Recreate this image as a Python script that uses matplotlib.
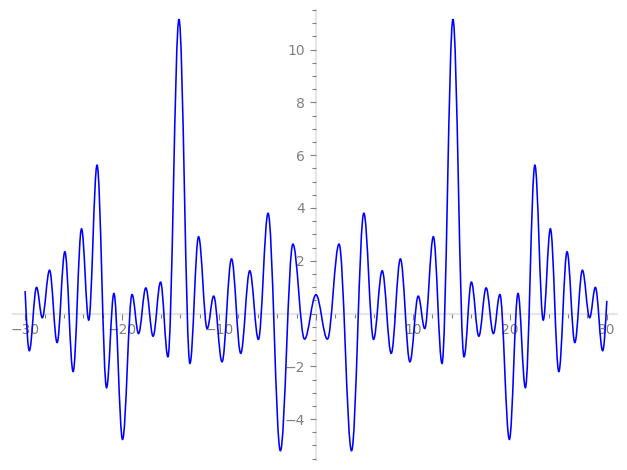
import matplotlib
matplotlib.use("Agg")
import matplotlib.pyplot as plt
from matplotlib.path import Path
from matplotlib.patches import PathPatch
from matplotlib.ticker import MultipleLocator, FuncFormatter

# extrema of the curve (x, y), left to right
xs = [-30.0, -29.57, -28.82, -28.23, -27.48, -26.7, -25.9, -25.05, -24.18, -23.44,
      -22.58, -21.6, -20.84, -19.95, -18.97, -18.3, -17.55, -16.8, -16.03, -15.27,
      -14.13, -13.0, -12.11, -11.22, -10.55, -9.69, -8.71, -7.76, -6.83, -5.94,
      -4.94, -3.67, -2.38, -1.18, 0.0,
      1.18, 2.38, 3.67, 4.94, 5.94, 6.83, 7.76, 8.71, 9.69, 10.55,
      11.22, 12.11, 13.0, 14.13, 15.27, 16.03, 16.8, 17.55, 18.3, 18.97,
      19.95, 20.84, 21.6, 22.58, 23.44, 24.18, 25.05, 25.9, 26.7, 27.48,
      28.23, 28.82, 29.57, 30.0]
ys = [0.85, -1.41, 0.99, -0.16, 1.64, -1.1, 2.34, -2.2, 3.21, -0.25,
      5.62, -2.81, 0.76, -4.77, 0.72, -0.76, 0.97, -0.86, 1.19, -1.64,
      11.15, -1.89, 2.91, -0.57, 0.66, -1.83, 2.07, -1.51, 1.62, -0.98,
      3.8, -5.2, 2.63, -0.97, 0.71,
      -0.97, 2.63, -5.2, 3.8, -0.98, 1.62, -1.51, 2.07, -1.83, 0.66,
      -0.57, 2.91, -1.89, 11.15, -1.64, 1.19, -0.86, 0.97, -0.76, 0.72,
      -4.77, 0.76, -2.81, 5.62, -0.25, 3.21, -2.2, 2.34, -1.1, 1.64,
      -0.16, 0.99, -1.41, 0.48]

# smooth curve: cubic segments with flat tangents at each extremum
k = 0.364
n = len(xs)
verts = [(xs[0], ys[0])]
codes = [Path.MOVETO]
for i in range(n - 1):
    x0, y0, x1, y1 = xs[i], ys[i], xs[i + 1], ys[i + 1]
    d = x1 - x0
    if i == 0:
        c1 = (x0 + d / 3, y0 + (y1 - y0) / 2)
    else:
        c1 = (x0 + k * d, y0)
    if i == n - 2:
        c2 = (x1 - d / 3, y1 - (y1 - y0) / 2)
    else:
        c2 = (x1 - k * d, y1)
    verts += [c1, c2, (x1, y1)]
    codes += [Path.CURVE4, Path.CURVE4, Path.CURVE4]

fig = plt.figure(figsize=(6.27, 4.7), dpi=100)
ax = fig.add_axes([13 / 627, 10 / 470, 604 / 627, 450 / 470])

ax.add_patch(PathPatch(Path(verts, codes), facecolor='none', edgecolor='blue',
                       linewidth=1.15, zorder=3))

ax.set_xlim(-31.25, 31.05)
ax.set_ylim(-5.55, 11.5)

for s in ['top', 'right']:
    ax.spines[s].set_visible(False)
for s in ['left', 'bottom']:
    ax.spines[s].set_position(('data', 0))
    ax.spines[s].set_color('#e6e6e6')
    ax.spines[s].set_linewidth(1.6)
    ax.spines[s].set_zorder(1)

ax.xaxis.set_major_locator(MultipleLocator(10))
ax.xaxis.set_minor_locator(MultipleLocator(2))
ax.yaxis.set_major_locator(MultipleLocator(2))
ax.yaxis.set_minor_locator(MultipleLocator(0.5))

fmt = FuncFormatter(lambda v, p: '' if abs(v) < 1e-9 else '%g' % v if v > 0 else '\u2212%g' % -v)
ax.xaxis.set_major_formatter(fmt)
ax.yaxis.set_major_formatter(fmt)

ax.tick_params(which='both', direction='out', color='#808080', labelcolor='#808080',
               labelsize=10, width=0.8)
ax.tick_params(which='major', length=4)
ax.tick_params(which='minor', length=3)
ax.tick_params(axis='x', pad=3)
ax.tick_params(axis='y', pad=4)

fig.savefig('out.png', dpi=100)
